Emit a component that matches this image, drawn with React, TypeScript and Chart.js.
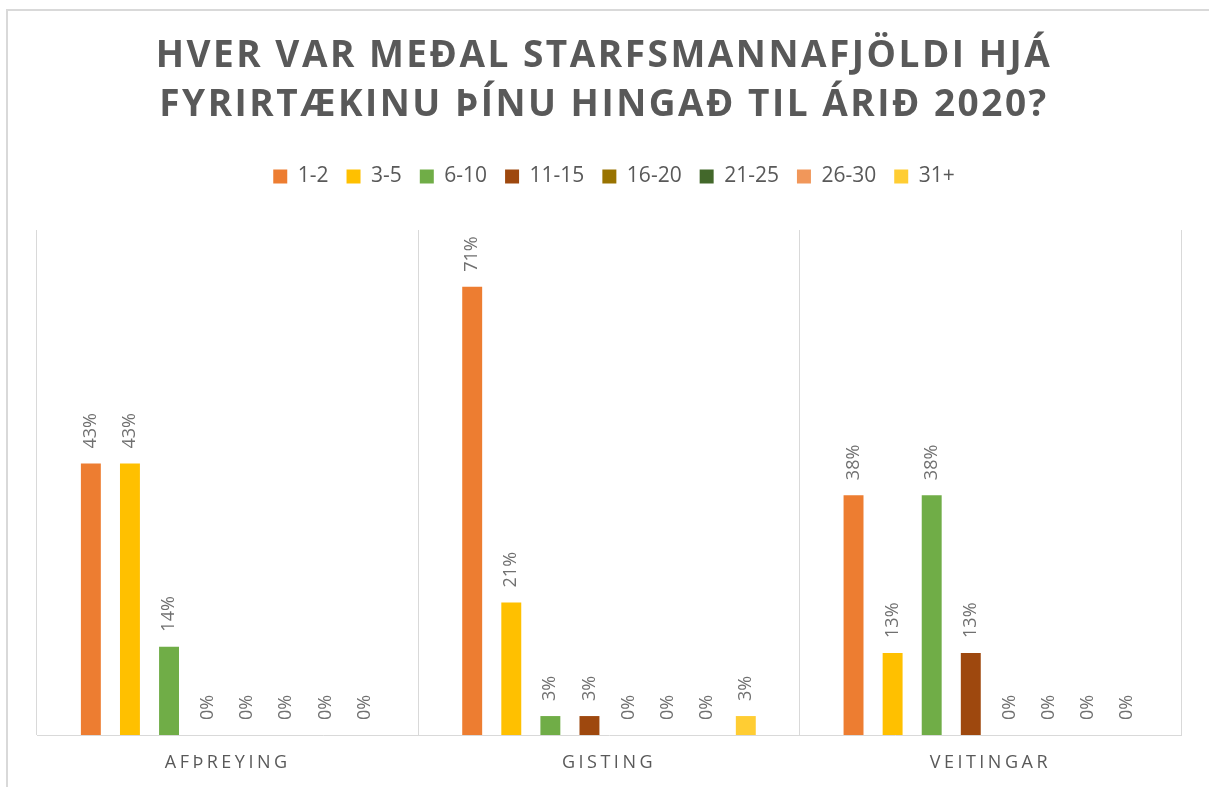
import React, { useEffect, useRef } from "react";
import { Chart, registerables } from "chart.js";

Chart.register(...registerables);

const TITLE_LINES = ["HVER VAR MEÐAL STARFSMANNAFJÖLDI HJÁ", "FYRIRTÆKINU ÞÍNU HINGAÐ TIL ÁRIÐ 2020?"];
const CATEGORIES = ["AFÞREYING", "GISTING", "VEITINGAR"];
const SERIES_LABELS = ["1-2", "3-5", "6-10", "11-15", "16-20", "21-25", "26-30", "31+"];
const SERIES_COLORS = ["#ED7D31", "#FFC000", "#70AD47", "#9E480E", "#997300", "#43682B", "#F1975A", "#FFCD33"];

// values in percent, per category [Afþreying, Gisting, Veitingar]
const S_1_2 = [43, 71, 38];
const S_3_5 = [43, 21, 13];
const S_6_10 = [14, 3, 38];
const S_11_15 = [0, 3, 13];
const S_16_20 = [0, 0, 0];
const S_21_25 = [0, 0, 0];
const S_26_30 = [0, 0, 0];
const S_31_PLUS = [0, 3, 0];
const SERIES_VALUES = [S_1_2, S_3_5, S_6_10, S_11_15, S_16_20, S_21_25, S_26_30, S_31_PLUS];

const Y_MAX = 80;
const FONT = '"Open Sans", "DejaVu Sans", sans-serif';
const TEXT_GRAY = "#595959";
const GRID_GRAY = "#d9d9d9";

const patchPlugin = {
  id: "patchBoxes",
  beforeUpdate(chart: any) {
    const lg = chart.legend;
    if (lg && !lg.__patched) {
      const origFit = lg.fit;
      lg.fit = function () {
        origFit.call(this);
        if (this.options.display) this.height += 33;
      };
      lg.__patched = true;
    }
    const tb = chart.titleBlock;
    if (tb && !tb.__patched) {
      const origDraw = tb.draw;
      tb.draw = function () {
        const ctx = this.ctx;
        ctx.save();
        ctx.letterSpacing = "2.5px";
        origDraw.call(this);
        ctx.restore();
      };
      tb.__patched = true;
    }
  },
  afterLayout(chart: any) {
    const lg = chart.legend;
    if (lg) {
      const dx = 614 - (lg.left + lg.right) / 2;
      lg.left += dx;
      lg.right += dx;
    }
    const tb = chart.titleBlock;
    if (tb) {
      const dx = 604 - (tb.left + tb.right) / 2;
      tb.left += dx;
      tb.right += dx;
    }
  },
};

const dataLabelPlugin = {
  id: "dataLabels",
  afterDatasetsDraw(chart: any) {
    const ctx = chart.ctx;
    ctx.save();
    ctx.font = `18px ${FONT}`;
    ctx.fillStyle = "#707070";
    ctx.textAlign = "left";
    ctx.textBaseline = "middle";
    chart.data.datasets.forEach((ds: any, i: number) => {
      const meta = chart.getDatasetMeta(i);
      meta.data.forEach((el: any, j: number) => {
        const v = ds.data[j];
        ctx.save();
        ctx.translate(el.x, el.y - 15);
        ctx.rotate(-Math.PI / 2);
        ctx.fillText(`${v}%`, 0, 0);
        ctx.restore();
      });
    });
    ctx.restore();
  },
};

const categoryLabelPlugin = {
  id: "categoryLabels",
  afterDraw(chart: any) {
    const ctx = chart.ctx;
    const xScale = chart.scales.x;
    ctx.save();
    ctx.font = `18px ${FONT}`;
    ctx.fillStyle = TEXT_GRAY;
    ctx.textAlign = "center";
    ctx.textBaseline = "middle";
    ctx.letterSpacing = "3.5px";
    CATEGORIES.forEach((c, i) => {
      const x = xScale.getPixelForTick(i);
      ctx.fillText(c, x, chart.chartArea.bottom + 28);
    });
    ctx.restore();
  },
};

export default function App() {
  const canvasRef = useRef<HTMLCanvasElement | null>(null);

  useEffect(() => {
    if (!canvasRef.current) return;
    const chart = new Chart(canvasRef.current, {
      type: "bar",
      data: {
        labels: CATEGORIES,
        datasets: SERIES_LABELS.map((label, i) => ({
          label,
          data: SERIES_VALUES[i],
          backgroundColor: SERIES_COLORS[i],
          borderWidth: 0,
          categoryPercentage: 0.82,
          barPercentage: 0.51,
        })),
      },
      options: {
        responsive: false,
        animation: false,
        devicePixelRatio: 1,
        layout: { padding: { left: 37, right: 28, top: 20, bottom: 52 } },
        plugins: {
          title: {
            display: true,
            text: TITLE_LINES,
            color: TEXT_GRAY,
            font: { family: FONT, size: 37, weight: "bold", lineHeight: 49 / 37 },
            padding: { top: 12, bottom: 18 },
          },
          legend: {
            display: true,
            position: "top",
            labels: {
              color: TEXT_GRAY,
              font: { family: FONT, size: 21 },
              boxWidth: 14,
              boxHeight: 14,
              padding: 18,
            },
          },
          tooltip: { enabled: false },
        },
        scales: {
          x: {
            grid: { display: true, offset: true, color: GRID_GRAY, lineWidth: 1, drawTicks: false },
            border: { display: true, color: GRID_GRAY, width: 1 },
            ticks: { display: false },
          },
          y: {
            display: false,
            min: 0,
            max: Y_MAX,
          },
        },
      },
      plugins: [patchPlugin, dataLabelPlugin, categoryLabelPlugin],
    });
    return () => chart.destroy();
  }, []);

  return (
    <div style={{ position: "fixed", left: 0, top: 0, width: 1209, height: 787, background: "#fff", overflow: "hidden" }}>
      <div
        style={{
          position: "absolute",
          left: 6,
          top: 9,
          width: 1300,
          height: 900,
          borderLeft: `2px solid ${GRID_GRAY}`,
          borderTop: `2px solid ${GRID_GRAY}`,
        }}
      />
      <canvas ref={canvasRef} width={1209} height={787} style={{ position: "absolute", left: 0, top: 0, width: 1209, height: 787 }} />
    </div>
  );
}
